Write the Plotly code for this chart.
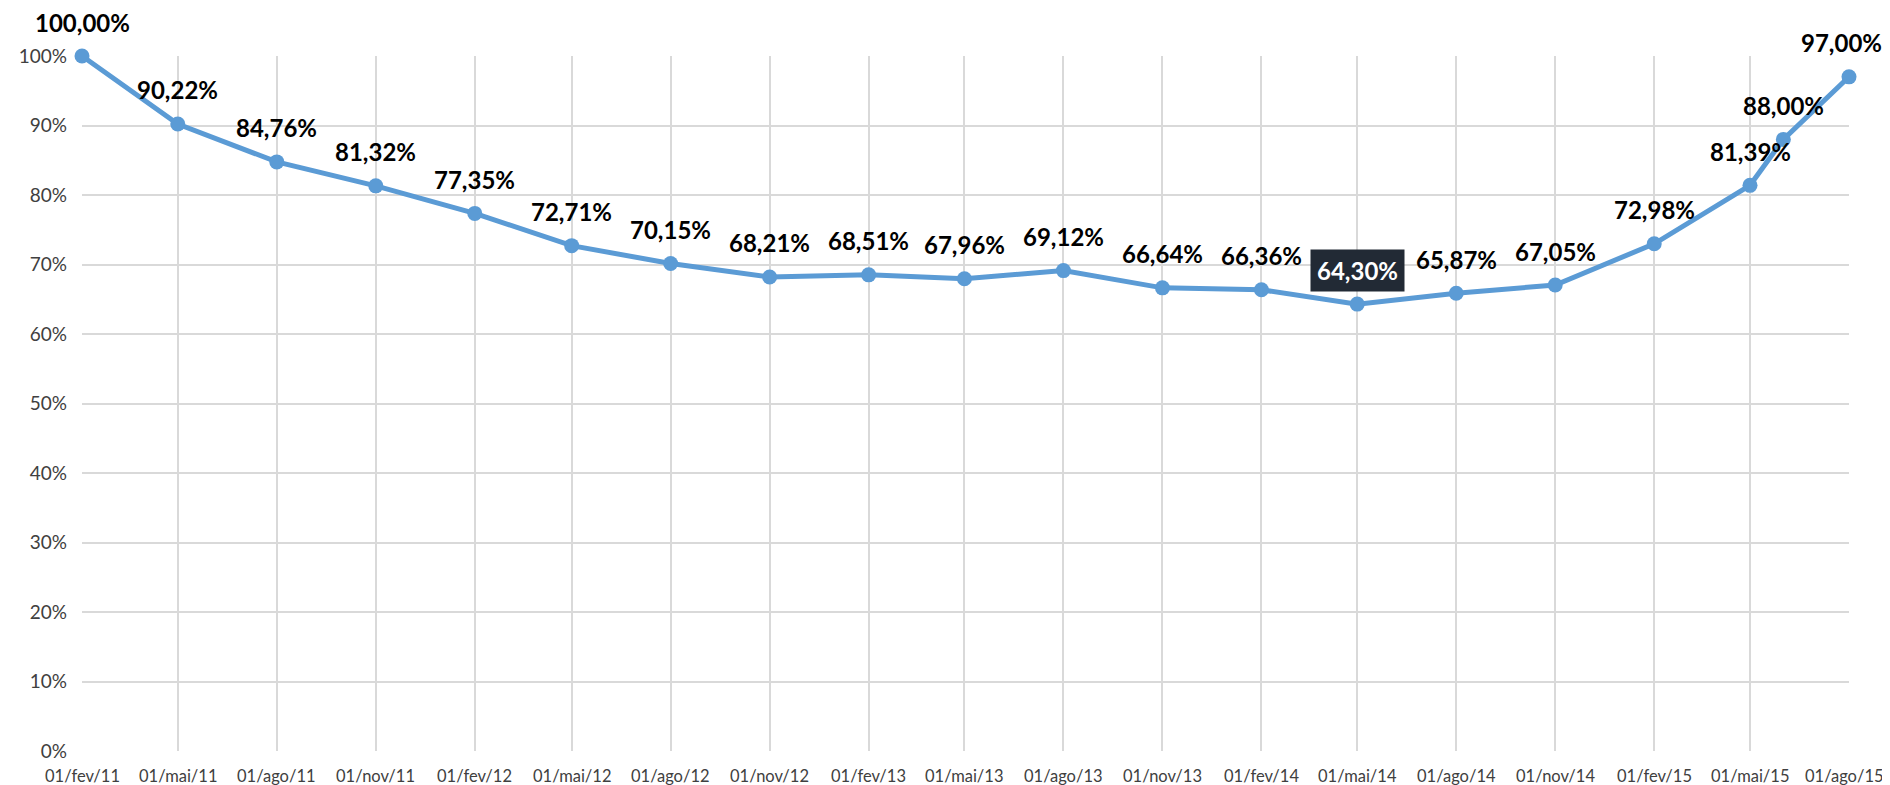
import plotly.graph_objects as go

dates = ["2011-02-01", "2011-05-01", "2011-08-01", "2011-11-01", "2012-02-01", "2012-05-01",
         "2012-08-01", "2012-11-01", "2013-02-01", "2013-05-01", "2013-08-01", "2013-11-01",
         "2014-02-01", "2014-05-01", "2014-08-01", "2014-11-01", "2015-02-01", "2015-05-01",
         "2015-06-01", "2015-08-01"]
values = [100.00, 90.22, 84.76, 81.32, 77.35, 72.71, 70.15, 68.21, 68.51, 67.96, 69.12, 66.64,
          66.36, 64.30, 65.87, 67.05, 72.98, 81.39, 88.00, 97.00]

tick_dates = ["2011-02-01", "2011-05-01", "2011-08-01", "2011-11-01", "2012-02-01", "2012-05-01",
              "2012-08-01", "2012-11-01", "2013-02-01", "2013-05-01", "2013-08-01", "2013-11-01",
              "2014-02-01", "2014-05-01", "2014-08-01", "2014-11-01", "2015-02-01", "2015-05-01",
              "2015-08-01"]
tick_labels = ["01/fev/11", "01/mai/11", "01/ago/11", "01/nov/11", "01/fev/12", "01/mai/12",
               "01/ago/12", "01/nov/12", "01/fev/13", "01/mai/13", "01/ago/13", "01/nov/13",
               "01/fev/14", "01/mai/14", "01/ago/14", "01/nov/14", "01/fev/15", "01/mai/15",
               "01/ago/15"]
highlight_label = "64,30%"

yvals = [v / 100 for v in values]
labels = [f"{v:.2f}".replace(".", ",") + "%" for v in values]

fig = go.Figure()
fig.add_trace(go.Scatter(
    x=dates, y=yvals, mode="lines+markers",
    line=dict(color="#5b9bd5", width=5),
    marker=dict(color="#5b9bd5", size=15),
    hoverinfo="skip", showlegend=False, cliponaxis=False,
))

annotations = []
for d, y, lab in zip(dates, yvals, labels):
    a = dict(x=d, y=y, xref="x", yref="y", text=lab, showarrow=False,
             yanchor="middle", xanchor="center", yshift=34,
             font=dict(family="Lato", size=24, color="#000000", weight="bold"))
    if lab == highlight_label:
        a["bgcolor"] = "#222a35"
        a["borderpad"] = 6
        a["font"] = dict(family="Lato", size=24, color="#ffffff", weight="bold")
    if lab == "97,00%":
        a["xshift"] = -8
    annotations.append(a)

# x tick labels, placed on the date axis (last one nudged inside the window like the original)
for i, (td, tl) in enumerate(zip(tick_dates, tick_labels)):
    annotations.append(dict(
        x=td, y=0, xref="x", yref="paper", text=tl, showarrow=False,
        xanchor="center", yanchor="middle", yshift=-25,
        xshift=-5 if i == len(tick_dates) - 1 else 0,
        font=dict(family="Lato", size=16.5, color="#404040"),
    ))

# the page body has an 8px margin, so the figure is sized to fill the window from there
fig.update_layout(
    width=1882, height=777,
    margin=dict(l=74, r=41, t=48, b=34, autoexpand=False),
    paper_bgcolor="white", plot_bgcolor="white",
    annotations=annotations,
    xaxis=dict(
        type="date", range=["2011-02-01", "2015-08-01"],
        tickvals=tick_dates, showticklabels=False,
        showgrid=True, gridcolor="#d9d9d9", gridwidth=1.5,
        zeroline=False, showline=False, ticks="", automargin=False,
    ),
    yaxis=dict(
        range=[0, 1], tickvals=[i / 10 for i in range(11)], tickformat=".0%",
        showgrid=True, gridcolor="#d9d9d9", gridwidth=1.5,
        zeroline=False, showline=False, ticks="", automargin=False,
        ticklabelstandoff=14,
        tickfont=dict(family="Lato", size=19, color="#404040"),
    ),
)

fig.write_html("out.html")
